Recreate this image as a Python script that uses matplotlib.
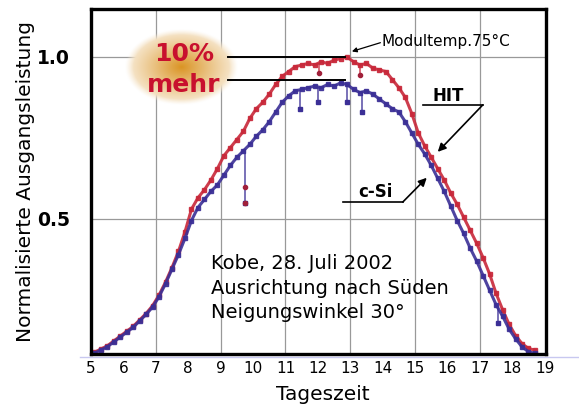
import numpy as np
import matplotlib
matplotlib.use("Agg")
import matplotlib.pyplot as plt
from matplotlib.lines import Line2D

# time of day (hours), one reading every 12 minutes
hours = np.round(np.arange(5.1, 18.71, 0.2), 2)

# c-Si module, normalised output
csi = [0.085, 0.095, 0.105, 0.12, 0.135, 0.15, 0.165, 0.185, 0.205, 0.228,
       0.26, 0.30, 0.345, 0.39, 0.44, 0.495, 0.535, 0.56, 0.585, 0.605,
       0.635, 0.665, 0.69, 0.71, 0.73, 0.755, 0.775, 0.80, 0.83, 0.86,
       0.88, 0.895, 0.90, 0.905, 0.91, 0.905, 0.915, 0.91, 0.92, 0.915,
       0.90, 0.89, 0.895, 0.885, 0.87, 0.855, 0.84, 0.83, 0.80, 0.765,
       0.73, 0.70, 0.665, 0.625, 0.585, 0.54, 0.495, 0.455, 0.41, 0.37,
       0.325, 0.28, 0.235, 0.20, 0.16, 0.13, 0.105, 0.09, 0.085]

# HIT module, normalised output
hit = [0.088, 0.098, 0.108, 0.123, 0.138, 0.153, 0.168, 0.188, 0.208, 0.232,
       0.265, 0.305, 0.35, 0.40, 0.46, 0.53, 0.565, 0.59, 0.62, 0.655,
       0.695, 0.72, 0.745, 0.77, 0.81, 0.84, 0.86, 0.885, 0.915, 0.94,
       0.955, 0.97, 0.975, 0.98, 0.975, 0.985, 0.98, 0.99, 0.995, 1.0,
       0.985, 0.975, 0.98, 0.965, 0.96, 0.955, 0.93, 0.905, 0.875, 0.825,
       0.765, 0.725, 0.69, 0.655, 0.62, 0.58, 0.545, 0.505, 0.465, 0.425,
       0.38, 0.33, 0.27, 0.22, 0.175, 0.14, 0.115, 0.10, 0.095]

# short drops (clouds) in the readings
csi_dip_t = [9.75, 11.45, 12.0, 12.9, 13.35, 17.55]
csi_dip_v = [0.55, 0.84, 0.86, 0.86, 0.83, 0.18]
hit_dip_t = [9.75, 9.75, 12.05, 13.3]
hit_dip_v = [0.60, 0.55, 0.95, 0.945]

red = "#c8283a"
blue = "#3b2f96"

fig = plt.figure(figsize=(5.79, 4.05), dpi=100)
ax = fig.add_axes([91 / 579, 51 / 405, 455 / 579, 345 / 405])

# faint line under the frame
fig.add_artist(Line2D([80 / 579, 1.0], [48 / 405, 48 / 405], color="#c8c8f0", lw=1, zorder=0))

# grid
for g in [7, 9, 11, 13, 15, 17]:
    ax.axvline(g, color="#999999", lw=0.9, zorder=1)
for g in [0.5, 1.0]:
    ax.axhline(g, color="#999999", lw=0.9, zorder=1)

# the two series
ax.plot(hours, hit, color=red, lw=2.2, marker="s", ms=3, alpha=0.9, zorder=3)
ax.plot(hours, csi, color=blue, lw=2.2, marker="s", ms=3, alpha=0.9, zorder=4)

top = np.interp(csi_dip_t, hours, csi)
ax.vlines(csi_dip_t, csi_dip_v, top, color=blue, lw=1.2, alpha=0.8, zorder=4)
ax.plot(csi_dip_t, csi_dip_v, "s", color=blue, ms=3, zorder=4)
top = np.interp(hit_dip_t, hours, hit)
ax.vlines(hit_dip_t[2:], hit_dip_v[2:], top[2:], color=red, lw=1.2, alpha=0.8, zorder=3)
ax.plot(hit_dip_t, hit_dip_v, "o", color="#a0203a", ms=3, zorder=5)

# orange glow behind "10% mehr"
cx, cy, rx, ry = 7.77, 0.968, 1.73, 0.116
gx = np.linspace(-1, 1, 220)
gy = np.linspace(-1, 1, 150)
X, Y = np.meshgrid(gx, gy)
r = np.sqrt(X ** 2 + Y ** 2)
w = 0.18 + 0.82 * np.clip(1 - r, 0, 1) ** 1.1
core = np.array([218, 148, 36]) / 255
img = np.ones((150, 220, 4))
for i in range(3):
    img[..., i] = 1 - (1 - core[i]) * w
img[..., 3] = np.clip((1.0 - r) / 0.15, 0, 1)
ax.imshow(img, extent=[cx - rx, cx + rx, cy - ry, cy + ry], aspect="auto",
          interpolation="bilinear", zorder=6)
ax.set_xlim(5, 19.04)
ax.set_ylim(0.083, 1.148)

ax.text(7.87, 0.988, "10%", color="#c8102e", fontsize=18, fontweight="bold",
        ha="center", va="baseline", zorder=7)
ax.text(7.87, 0.892, "mehr", color="#c8102e", fontsize=18, fontweight="bold",
        ha="center", va="baseline", zorder=7)
ax.plot([9.23, 12.84], [1.0, 1.0], color="black", lw=1.4, zorder=7)
ax.plot([9.23, 12.84], [0.929, 0.929], color="black", lw=1.4, zorder=7)

# module temperature note
ax.text(13.95, 1.034, "Modultemp.75°C", fontsize=11, ha="left", va="baseline", zorder=7)
ax.annotate("", xy=(13.05, 1.017), xytext=(13.93, 1.044),
            arrowprops=dict(arrowstyle="-|>", color="black", lw=0.9,
                            mutation_scale=7, shrinkA=0, shrinkB=0), zorder=7)

# series labels
ax.text(16.01, 0.865, "HIT", fontsize=12, fontweight="bold", ha="center", va="baseline", zorder=7)
ax.plot([15.24, 17.09], [0.852, 0.852], color="black", lw=1.2, zorder=7)
ax.annotate("", xy=(15.70, 0.707), xytext=(17.09, 0.852),
            arrowprops=dict(arrowstyle="-|>", color="black", lw=1.2,
                            mutation_scale=12, shrinkA=0, shrinkB=0), zorder=7)
ax.text(13.79, 0.568, "c-Si", fontsize=12, fontweight="bold", ha="center", va="baseline", zorder=7)
ax.plot([12.77, 14.62], [0.552, 0.552], color="black", lw=1.2, zorder=7)
ax.annotate("", xy=(15.36, 0.627), xytext=(14.62, 0.552),
            arrowprops=dict(arrowstyle="-|>", color="black", lw=1.2,
                            mutation_scale=12, shrinkA=0, shrinkB=0), zorder=7)

# conditions
ax.text(8.70, 0.346, "Kobe, 28. Juli 2002", fontsize=14, va="baseline", zorder=7)
ax.text(8.70, 0.269, "Ausrichtung nach Süden", fontsize=14, va="baseline", zorder=7)
ax.text(8.70, 0.194, "Neigungswinkel 30°", fontsize=14, va="baseline", zorder=7)

# axes styling
ax.set_xticks(range(5, 20))
ax.set_yticks([0.5, 1.0])
ax.set_yticklabels(["0.5", "1.0"], fontweight="bold", fontsize=13.5)
ax.tick_params(axis="x", length=0, pad=5, labelsize=11)
ax.tick_params(axis="y", length=0, pad=15)
for s in ax.spines.values():
    s.set_linewidth(2.4)
    s.set_zorder(8)

fig.text(26 / 579, 1 - 182 / 405, "Normalisierte Ausgangsleistung", rotation=90,
         fontsize=14.5, ha="center", va="center")
fig.text(323 / 579, 1 - 395 / 405, "Tageszeit", fontsize=14.5, ha="center", va="center")

fig.savefig("out.png", dpi=100)
